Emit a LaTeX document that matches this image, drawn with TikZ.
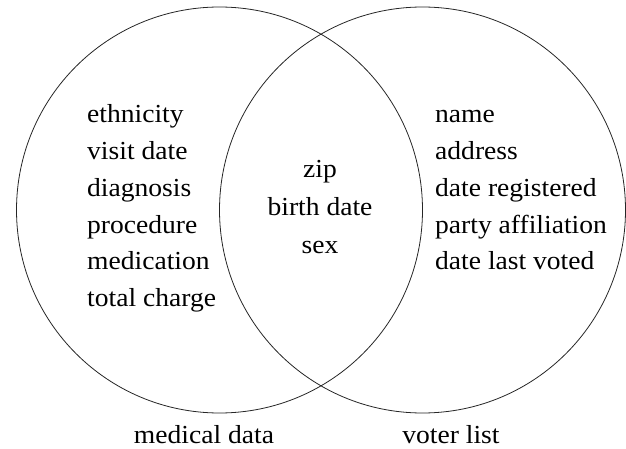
\documentclass[tikz,border=0pt]{standalone}
\usepackage{fontspec}
\setmainfont{Liberation Serif}[FakeStretch=1.06]
\begin{document}
\begin{tikzpicture}[x=1pt,y=-1pt,
  setcircle/.style={circle,draw=black!85,line width=0.8pt,minimum size=406pt,inner sep=0pt},
  item/.style={anchor=base west,inner sep=0pt,font=\fontsize{26}{30}\selectfont},
  citem/.style={anchor=base,inner sep=0pt,font=\fontsize{26}{30}\selectfont}]
\useasboundingbox (0,0) rectangle (626,449);
\node[setcircle] (L) at (219.5,210) {};
\node[setcircle] (R) at (422.5,210) {};
% left items
\node[item] (l1) at (87,123) {ethnicity};
\node[item] (l2) at (87,159.7) {visit date};
\node[item] (l3) at (87,196.4) {diagnosis};
\node[item] (l4) at (87,233.1) {procedure};
\node[item] (l5) at (87,269.8) {medication};
\node[item] (l6) at (87,306.5) {total charge};
% right items
\node[item] (r1) at (435,123) {name};
\node[item] (r2) at (435,159.7) {address};
\node[item] (r3) at (435,196.4) {date registered};
\node[item] (r4) at (435,233.1) {party affiliation};
\node[item] (r5) at (435,269.8) {date last voted};
% centre items
\node[citem] (c1) at (320,178) {zip};
\node[citem] (c2) at (320,215.5) {birth date};
\node[citem] (c3) at (320,253) {sex};
% labels
\node[citem] (ml) at (204,443) {medical data};
\node[citem] (vl) at (451,443) {voter list};
\end{tikzpicture}
\end{document}
